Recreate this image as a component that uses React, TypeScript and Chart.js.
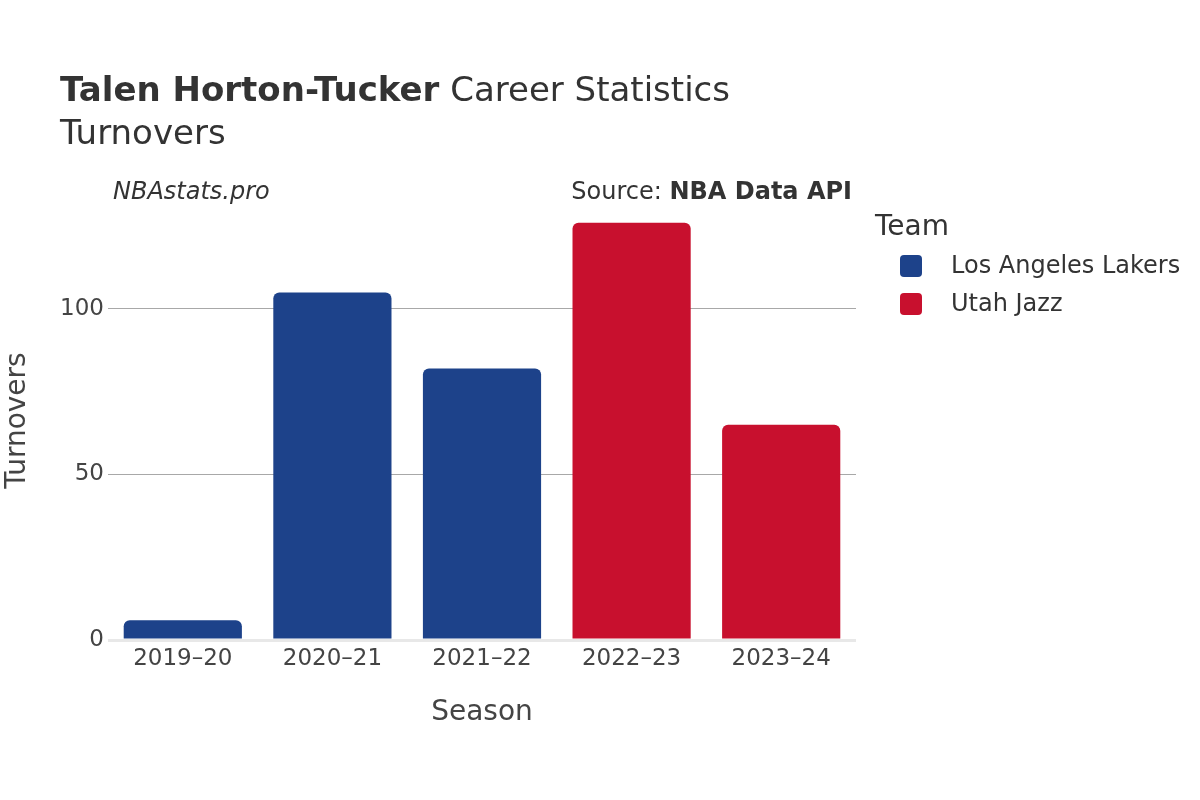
import React, { useEffect, useRef } from "react";
import { Chart, registerables } from "chart.js";

Chart.register(...registerables);

const seasons = ["2019–20", "2020–21", "2021–22", "2022–23", "2023–24"];
const lakersTurnovers = [6, 105, 82, null, null];
const jazzTurnovers = [null, null, null, 126, 65];
const yTicks = [0, 50, 100];
const teams = ["Los Angeles Lakers", "Utah Jazz"];
const teamColors = ["#1d428a", "#c8102e"];

const FONT = "'DejaVu Sans', 'Open Sans', sans-serif";

const textPlugin = {
  id: "textPlugin",
  afterDraw(chart: any) {
    const ctx = chart.ctx;
    ctx.save();
    ctx.textBaseline = "alphabetic";
    ctx.fillStyle = "#333";
    ctx.textAlign = "left";
    ctx.font = `bold 34px ${FONT}`;
    const boldT = "Talen Horton-Tucker";
    ctx.fillText(boldT, 60, 101);
    const w = ctx.measureText(boldT).width;
    ctx.font = `34px ${FONT}`;
    ctx.fillText(" Career Statistics", 60 + w, 101);
    ctx.fillText("Turnovers", 60, 144);

    ctx.textBaseline = "middle";
    ctx.font = `italic 24px ${FONT}`;
    ctx.fillText("NBAstats.pro", 113, 193);
    ctx.textAlign = "right";
    ctx.font = `bold 24px ${FONT}`;
    const src = "NBA Data API";
    ctx.fillText(src, 852, 193);
    const sw = ctx.measureText(src).width;
    ctx.font = `24px ${FONT}`;
    ctx.fillText("Source: ", 852 - sw, 193);

    // legend
    ctx.textAlign = "left";
    ctx.font = `28px ${FONT}`;
    ctx.fillText("Team", 875, 228);
    ctx.font = `24px ${FONT}`;
    teams.forEach((t, i) => {
      const y = 266 + i * 38;
      ctx.fillStyle = teamColors[i];
      ctx.beginPath();
      (ctx as any).roundRect(900, y - 11, 22, 22, 4);
      ctx.fill();
      ctx.fillStyle = "#333";
      ctx.fillText(t, 951, y + 1);
    });
    ctx.restore();
  },
};

export default function App() {
  const ref = useRef<HTMLCanvasElement | null>(null);
  useEffect(() => {
    if (!ref.current) return;
    const chart = new Chart(ref.current, {
      type: "bar",
      data: {
        labels: seasons,
        datasets: [
          {
            label: teams[0],
            data: lakersTurnovers as any,
            backgroundColor: teamColors[0],
            borderRadius: { topLeft: 6, topRight: 6, bottomLeft: 0, bottomRight: 0 },
            borderSkipped: false,
            barPercentage: 0.79,
            categoryPercentage: 1,
          },
          {
            label: teams[1],
            data: jazzTurnovers as any,
            backgroundColor: teamColors[1],
            borderRadius: { topLeft: 6, topRight: 6, bottomLeft: 0, bottomRight: 0 },
            borderSkipped: false,
            barPercentage: 0.79,
            categoryPercentage: 1,
          },
        ],
      },
      options: {
        responsive: false,
        animation: false,
        grouped: false,
        layout: { padding: { left: 0, top: 201, right: 344, bottom: 60 } },
        plugins: { legend: { display: false }, tooltip: { enabled: false } },
        scales: {
          x: {
            grid: { display: false, drawTicks: false },
            border: { display: false },
            ticks: { color: "#444", font: { family: FONT, size: 23 }, padding: 5 },
            title: {
              display: true,
              text: "Season",
              color: "#444",
              font: { family: FONT, size: 28 },
              padding: { top: 10, bottom: 10 },
            },
            afterFit: (s: any) => {
              s.height = 100;
            },
          },
          y: {
            min: 0,
            max: 132.6,
            afterBuildTicks: (s: any) => {
              s.ticks = yTicks.map((v) => ({ value: v }));
            },
            grid: {
              color: (c: any) => (c.tick && c.tick.value === 0 ? "#e8e8e8" : "#a8a8a8"),
              lineWidth: (c: any) => (c.tick && c.tick.value === 0 ? 3 : 1),
              drawTicks: false,
            },
            border: { display: false },
            ticks: { color: "#444", font: { family: FONT, size: 23 }, padding: 4 },
            title: {
              display: true,
              text: "Turnovers",
              color: "#444",
              font: { family: FONT, size: 28 },
              padding: { top: 1, bottom: 10 },
            },
            afterFit: (s: any) => {
              s.width = 108;
            },
          },
        },
      },
      plugins: [textPlugin],
    });
    return () => chart.destroy();
  }, []);
  return (
    <div style={{ position: "absolute", left: 0, top: 0, width: 1200, height: 800, background: "#fff" }}>
      <canvas ref={ref} width={1200} height={800} />
    </div>
  );
}
